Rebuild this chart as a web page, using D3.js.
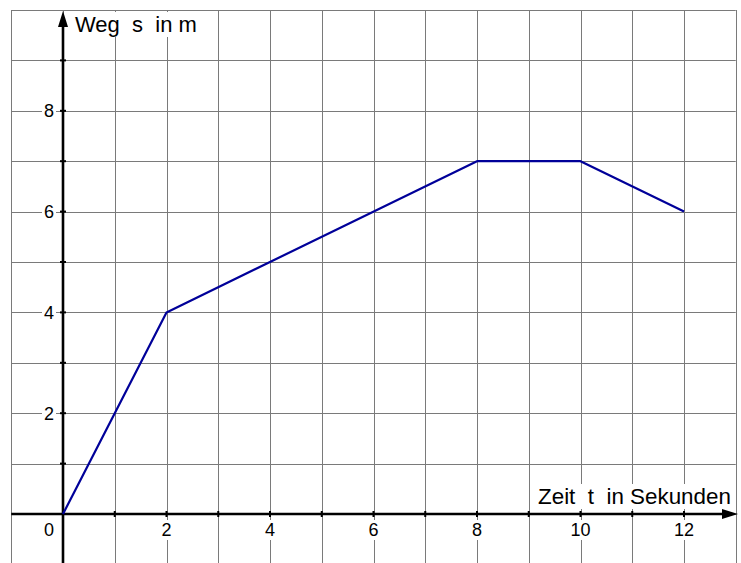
<!DOCTYPE html>
<html>
<head>
<meta charset="utf-8">
<script src="https://cdn.jsdelivr.net/npm/d3@7"></script>
<style>
  body { margin: 0; background: #fff; }
  svg { display: block; font-family: "Liberation Sans", Arial, sans-serif; }
</style>
</head>
<body>
<svg width="741" height="563"></svg>
<script>
// path of the motion: time (s) and distance (m)
const times = [0, 2, 8, 10, 12];
const distances = [0, 4, 7, 7, 6];
const xTickLabels = [2, 4, 6, 8, 10, 12];
const yTickLabels = [2, 4, 6, 8];

const svg = d3.select('svg');
const W = 741, H = 563;

// origin at (63, 514), one unit ~51.75 px across, ~50.4 px up
const x = d3.scaleLinear().domain([-1, 13]).range([11.25, 735.75]);
const y = d3.scaleLinear().domain([-1, 10]).range([564.4, 10]);

// grid
const grid = svg.append('g').attr('stroke', '#7a7a7a').attr('stroke-width', 1);
d3.range(-1, 14).forEach(v => {
    const px = Math.round(x(v)) + 0.5;
    grid.append('line').attr('x1', px).attr('x2', px).attr('y1', y(10)).attr('y2', H);
});
d3.range(-1, 11).forEach(v => {
    const py = Math.round(y(v)) + 0.5;
    grid.append('line').attr('x1', x(-1)).attr('x2', x(13)).attr('y1', py).attr('y2', py);
});

// text with a white box behind it, covering the grid
function label(txt, px, py, size, anchor) {
    const t = svg.append('text')
        .attr('x', px).attr('y', py)
        .attr('text-anchor', anchor || 'start')
        .style('font-size', size + 'px')
        .attr('fill', '#000')
        .style('white-space', 'pre')
        .text(txt);
    const b = t.node().getBBox();
    svg.insert('rect', function () { return t.node(); })
        .attr('x', b.x - 2).attr('y', b.y).attr('width', b.width + 4).attr('height', b.height)
        .attr('fill', '#fff');
}
label('Weg  s  in m', 75, 32, 22);
label('Zeit  t  in Sekunden', 538, 504, 22.4);

// tick labels
xTickLabels.forEach(d => label(String(d), x(d), y(0) + 22, 18, 'middle'));
yTickLabels.forEach(d => label(String(d), 54, y(d) + 6.5, 18, 'end'));
label('0', 54, y(0) + 22, 18, 'end');

// axes
const axes = svg.append('g').attr('stroke', '#000').attr('stroke-width', 2.6);
axes.append('line').attr('x1', x(-1)).attr('x2', 730).attr('y1', y(0)).attr('y2', y(0));
axes.append('line').attr('x1', x(0)).attr('x2', x(0)).attr('y1', H).attr('y2', 20);
svg.append('path')
    .attr('d', `M738,${y(0)} L722,${y(0) - 5} L722,${y(0) + 5} Z`).attr('fill', '#000');
svg.append('path')
    .attr('d', `M${x(0)},11 L${x(0) - 5},27 L${x(0) + 5},27 Z`).attr('fill', '#000');

// tick marks
const ticks = svg.append('g').attr('stroke', '#000').attr('stroke-width', 2);
d3.range(1, 13).forEach(v => {
    ticks.append('line').attr('x1', x(v)).attr('x2', x(v)).attr('y1', y(0) - 3).attr('y2', y(0) + 3);
});
d3.range(1, 10).forEach(v => {
    ticks.append('line').attr('x1', x(0) - 3).attr('x2', x(0) + 3).attr('y1', y(v)).attr('y2', y(v));
});

// the graph
const line = d3.line().x((d, i) => x(times[i])).y(d => y(d));
svg.append('path')
    .datum(distances)
    .attr('d', line)
    .attr('fill', 'none')
    .attr('stroke', '#000099')
    .attr('stroke-width', 2.2)
    .attr('stroke-linejoin', 'round');
</script>
</body>
</html>
